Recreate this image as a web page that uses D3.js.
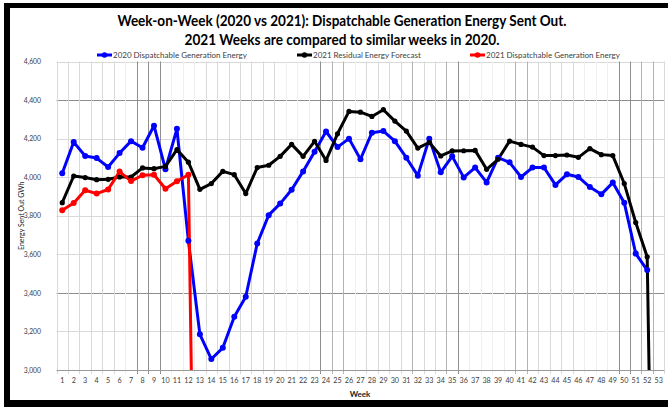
<!DOCTYPE html>
<html>
<head>
<meta charset="utf-8">
<script src="https://cdn.jsdelivr.net/npm/d3@7"></script>
<style>
  html, body { margin: 0; padding: 0; background: #fff; }
  svg { display: block; }
</style>
</head>
<body>
<svg id="chart" width="668" height="407"></svg>
<script>
// ---------------- DATA ----------------
const weeks = d3.range(1, 54); // 1..53
const yTicks = [3000, 3200, 3400, 3600, 3800, 4000, 4200, 4400, 4600];

const blue2020 = [4020, 4182, 4110, 4099, 4053, 4125, 4187, 4153, 4267, 4041,
  4251, 3670, 3185, 3057, 3115, 3276, 3380, 3656, 3803, 3863,
  3935, 4030, 4132, 4237, 4156, 4200, 4093, 4231, 4239, 4187,
  4101, 4008, 4200, 4025, 4108, 3999, 4050, 3973, 4101, 4077,
  4001, 4050, 4050, 3960, 4015, 4001, 3949, 3911, 3972, 3868,
  3604, 3518];

const black2021 = [3868, 4006, 3998, 3987, 3989, 4001, 4001, 4048, 4044, 4056,
  4143, 4078, 3937, 3967, 4030, 4013, 3915, 4050, 4062, 4108,
  4170, 4108, 4186, 4087, 4225, 4341, 4337, 4315, 4350, 4291,
  4239, 4151, 4180, 4110, 4136, 4137, 4139, 4041, 4093, 4187,
  4170, 4156, 4112, 4112, 4115, 4103, 4148, 4117, 4112, 3967,
  3765, 3587, 0];

const red2021 = [3828, 3866, 3932, 3915, 3936, 4029, 3980, 4010, 4013, 3940,
  3979, 4013, 0];

const seriesNames = ["2020 Dispatchable Generation Energy",
  "2021 Residual Energy Forecast",
  "2021 Dispatchable Generation Energy"];

const titleLines = ["Week-on-Week (2020 vs 2021): Dispatchable Generation Energy Sent Out.",
  "2021 Weeks are compared to similar weeks in 2020."];

// ---------------- STYLE ----------------
const FONT = "Lato, 'Open Sans', sans-serif";
const colors = ["#0000ff", "#000000", "#ff0000"];
// shade of each vertical gridline (category boundary 0..53)
const vShade = ["L","L","L","L","L","L","N","D","D","D","N","N","N","L","L","L","L","L","L","L",
  "N","N","N","D","M","M","N","L","L","L","L","M","L","L","M","D","N","N","N","N",
  "M","M","L","L","L","L","N","N","N","D","D","M","M","L"];
const shadeColor = { D: "#8f8f8f", M: "#b4b4b4", L: "#d9d9d9", N: "#efefef" };
const hDark = new Set([4400, 3400]);
const titleWidths = [449, 315];

const svg = d3.select("#chart");

const plot = { left: 56.5, right: 664.4, top: 61.5, bottom: 370 };

const x = d3.scaleBand().domain(weeks).range([plot.left, plot.right]).padding(0);
const cx = w => x(w) + x.bandwidth() / 2;
const y = d3.scaleLinear().domain([3000, 4600]).range([plot.bottom, plot.top]);

svg.append("rect").attr("x", 0).attr("y", 0).attr("width", 668).attr("height", 407).attr("fill", "#fff");

svg.append("defs").append("clipPath").attr("id", "clip")
  .append("rect").attr("x", plot.left).attr("y", plot.top - 4)
  .attr("width", plot.right - plot.left).attr("height", plot.bottom - plot.top + 4);

// horizontal gridlines
svg.append("g").selectAll("line").data(yTicks.filter(t => t > 3000)).join("line")
  .attr("x1", plot.left).attr("x2", plot.right)
  .attr("y1", d => Math.round(y(d)) + 0.5).attr("y2", d => Math.round(y(d)) + 0.5)
  .attr("stroke", d => hDark.has(d) ? "#8f8f8f" : "#d9d9d9").attr("stroke-width", 1);

// vertical gridlines at category boundaries
const bounds = d3.range(0, weeks.length + 1).map(k => k === weeks.length ? plot.right : x(weeks[k]));
svg.append("g").selectAll("line").data(bounds).join("line")
  .attr("x1", d => Math.round(d) + 0.5).attr("x2", d => Math.round(d) + 0.5)
  .attr("y1", plot.top).attr("y2", plot.bottom + 4)
  .attr("stroke", (d, i) => shadeColor[vShade[i]]).attr("stroke-width", 1);

// x axis
const xAxis = d3.axisBottom(x).tickSize(0).tickPadding(7);
const gx = svg.append("g").attr("transform", `translate(0,${Math.round(plot.bottom) + 0.5})`).call(xAxis);
gx.select(".domain").attr("stroke", "#9a9a9a").attr("d", `M${plot.left},0H${plot.right}`);
gx.selectAll("text").attr("font-family", FONT).attr("font-size", 7.2).attr("fill", "#404040");

// y axis labels
const yAxis = d3.axisLeft(y).tickValues(yTicks).tickSize(0).tickPadding(0).tickFormat(d3.format(","));
const gy = svg.append("g").attr("transform", `translate(41,0)`).call(yAxis);
gy.select(".domain").remove();
gy.selectAll("text").attr("font-family", FONT).attr("font-size", 6.8).attr("fill", "#404040");

// series
const allSeries = [blue2020, black2021, red2021];
const line = d3.line().x((d, i) => cx(weeks[i])).y(d => y(d));
const gs = svg.append("g").attr("clip-path", "url(#clip)");
allSeries.forEach((vals, s) => {
  gs.append("path").datum(vals).attr("d", line)
    .attr("fill", "none").attr("stroke", colors[s]).attr("stroke-width", 3)
    .attr("stroke-linejoin", "round");
});
allSeries.forEach((vals, s) => {
  gs.append("g").selectAll("circle").data(vals.map((v, i) => ({ v, i })).filter(d => d.v >= 3000))
    .join("circle").attr("cx", d => cx(weeks[d.i])).attr("cy", d => y(d.v))
    .attr("r", s === 1 ? 2.6 : 3).attr("fill", colors[s]);
});

// title
svg.append("g").selectAll("text").data(titleLines).join("text")
  .attr("x", 342).attr("y", (d, i) => 26 + i * 19)
  .attr("text-anchor", "middle").attr("font-family", FONT).attr("font-weight", "bold")
  .attr("font-size", 15).attr("fill", "#000")
  .attr("textLength", (d, i) => titleWidths[i]).attr("lengthAdjust", "spacingAndGlyphs")
  .text(d => d);

// legend
const legX = [97, 297, 470];
const leg = svg.append("g").selectAll("g").data(seriesNames).join("g")
  .attr("transform", (d, i) => `translate(${legX[i]},55)`);
leg.append("line").attr("x1", 0).attr("x2", 15).attr("y1", 0).attr("y2", 0)
  .attr("stroke", (d, i) => colors[i]).attr("stroke-width", 3);
leg.append("circle").attr("cx", 7.5).attr("cy", 0).attr("r", 2.8).attr("fill", (d, i) => colors[i]);
leg.append("text").attr("x", 16).attr("y", 0).attr("dy", "0.35em")
  .attr("font-family", FONT).attr("font-size", 8).attr("fill", "#404040").text(d => d);

// axis titles
svg.append("text").attr("transform", `translate(24,${(plot.top + plot.bottom) / 2}) rotate(-90)`)
  .attr("text-anchor", "middle").attr("font-family", FONT).attr("font-size", 7).attr("fill", "#222")
  .text("Energy Sent Out GWh");
svg.append("text").attr("x", 360).attr("y", 397).attr("text-anchor", "middle")
  .attr("font-family", FONT).attr("font-weight", "bold").attr("font-size", 8).attr("fill", "#222")
  .text("Week");

// black frame
svg.append("rect").attr("x", 4).attr("y", 3).attr("width", 664).attr("height", 5).attr("fill", "#000");
svg.append("rect").attr("x", 4).attr("y", 3).attr("width", 6).attr("height", 404).attr("fill", "#000");
svg.append("rect").attr("x", 4).attr("y", 400).attr("width", 664).attr("height", 7).attr("fill", "#000");
</script>
</body>
</html>
